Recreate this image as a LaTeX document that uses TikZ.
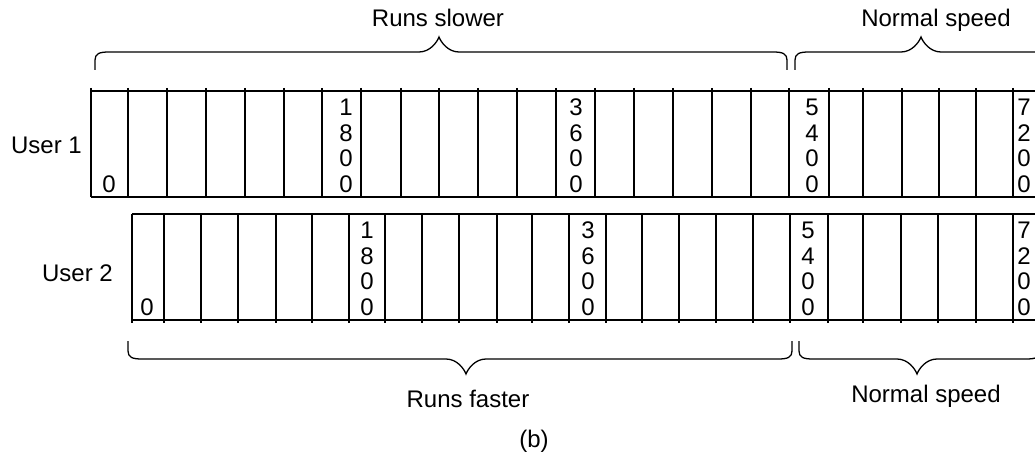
\documentclass[tikz,border=0pt]{standalone}
\usepackage{fontspec}
\setmainfont{Liberation Sans}
\usetikzlibrary{positioning}
\newcommand{\labelfont}{\fontsize{24}{25.7}\selectfont}
% brace: x left, x right, x tip, y of the ends, y of the bar, y of the tip
\newcommand{\speedbrace}[6]{%
  \draw[bracepath] (#1,#4) -- (#1,{#5+0.45*(#4-#5)})
    .. controls (#1,{#5+0.1*(#4-#5)}) and ({#1+4},#5) .. ({#1+14},#5)
    -- ({#3-20},#5)
    .. controls ({#3-9},#5) and ({#3-2},{#6+0.35*(#5-#6)}) .. (#3,#6)
    .. controls ({#3+2},{#6+0.35*(#5-#6)}) and ({#3+9},#5) .. ({#3+20},#5)
    -- ({#2-14},#5)
    .. controls ({#2-4},#5) and (#2,{#5+0.1*(#4-#5)}) .. (#2,{#5+0.45*(#4-#5)})
    -- (#2,#4);}

\tikzset{
  frameline/.style={line width=2.2pt},
  cellline/.style={line width=1.8pt},
  bracepath/.style={line width=1.3pt},
  digitstack/.style={font=\labelfont, align=center, inner sep=0pt, anchor=south},
  speedlabel/.style={font=\labelfont, inner sep=0pt, anchor=base}
}

\begin{document}
\begin{tikzpicture}[x=1pt, y=-1pt]
    \useasboundingbox (0,0) rectangle (1035,454);
    \clip (0,0) rectangle (1035,454);

    % user 1
    \draw[frameline] (91,91) -- (1045,91);
    \draw[frameline] (91,197) -- (1045,197);
    \foreach \x in {91,128,167,206,245,284,322,361,401,439,478,517,556,595,634,673,712,751,789,829,863,902,939,976,1013}
        \draw[cellline] (\x,88) -- (\x,197);
    \foreach \x/\t [count=\i] in {109/0, 346/{1\\8\\0\\0}, 576/{3\\6\\0\\0}, 812/{5\\4\\0\\0}, 1024/{7\\2\\0\\0}}
        \node[digitstack] (uone\i) at (\x,193) {\t};
    \node[speedlabel, anchor=base east] (userone) at (82,154) {User 1};

    % user 2
    \draw[frameline] (132,214) -- (1045,214);
    \draw[frameline] (132,320) -- (1045,320);
    \foreach \x in {132,164,201,238,276,312,349,385,422,459,497,532,569,606,642,679,716,753,790,828,863,901,938,976,1013}
        \draw[cellline] (\x,214) -- (\x,323);
    \foreach \x/\t [count=\i] in {147/0, 367/{1\\8\\0\\0}, 588/{3\\6\\0\\0}, 808/{5\\4\\0\\0}, 1024/{7\\2\\0\\0}}
        \node[digitstack] (utwo\i) at (\x,316) {\t};
    \node[speedlabel, anchor=base east] (usertwo) at (113,281) {User 2};

    % braces above
    \speedbrace{95}{787}{439}{70}{52}{37}
    \speedbrace{795}{1047}{921}{70}{52}{37}
    \node[speedlabel] (slower) at (438,27) {Runs slower};
    \node[speedlabel] (normalup) at (936,27) {Normal speed};

    % braces below
    \speedbrace{128}{792}{466}{341}{359}{374}
    \speedbrace{799}{1040}{917}{341}{359}{374}
    \node[speedlabel] (faster) at (468,407) {Runs faster};
    \node[speedlabel] (normaldown) at (926,402) {Normal speed};

    \node[speedlabel] (partb) at (534,447) {(b)};
\end{tikzpicture}
\end{document}
